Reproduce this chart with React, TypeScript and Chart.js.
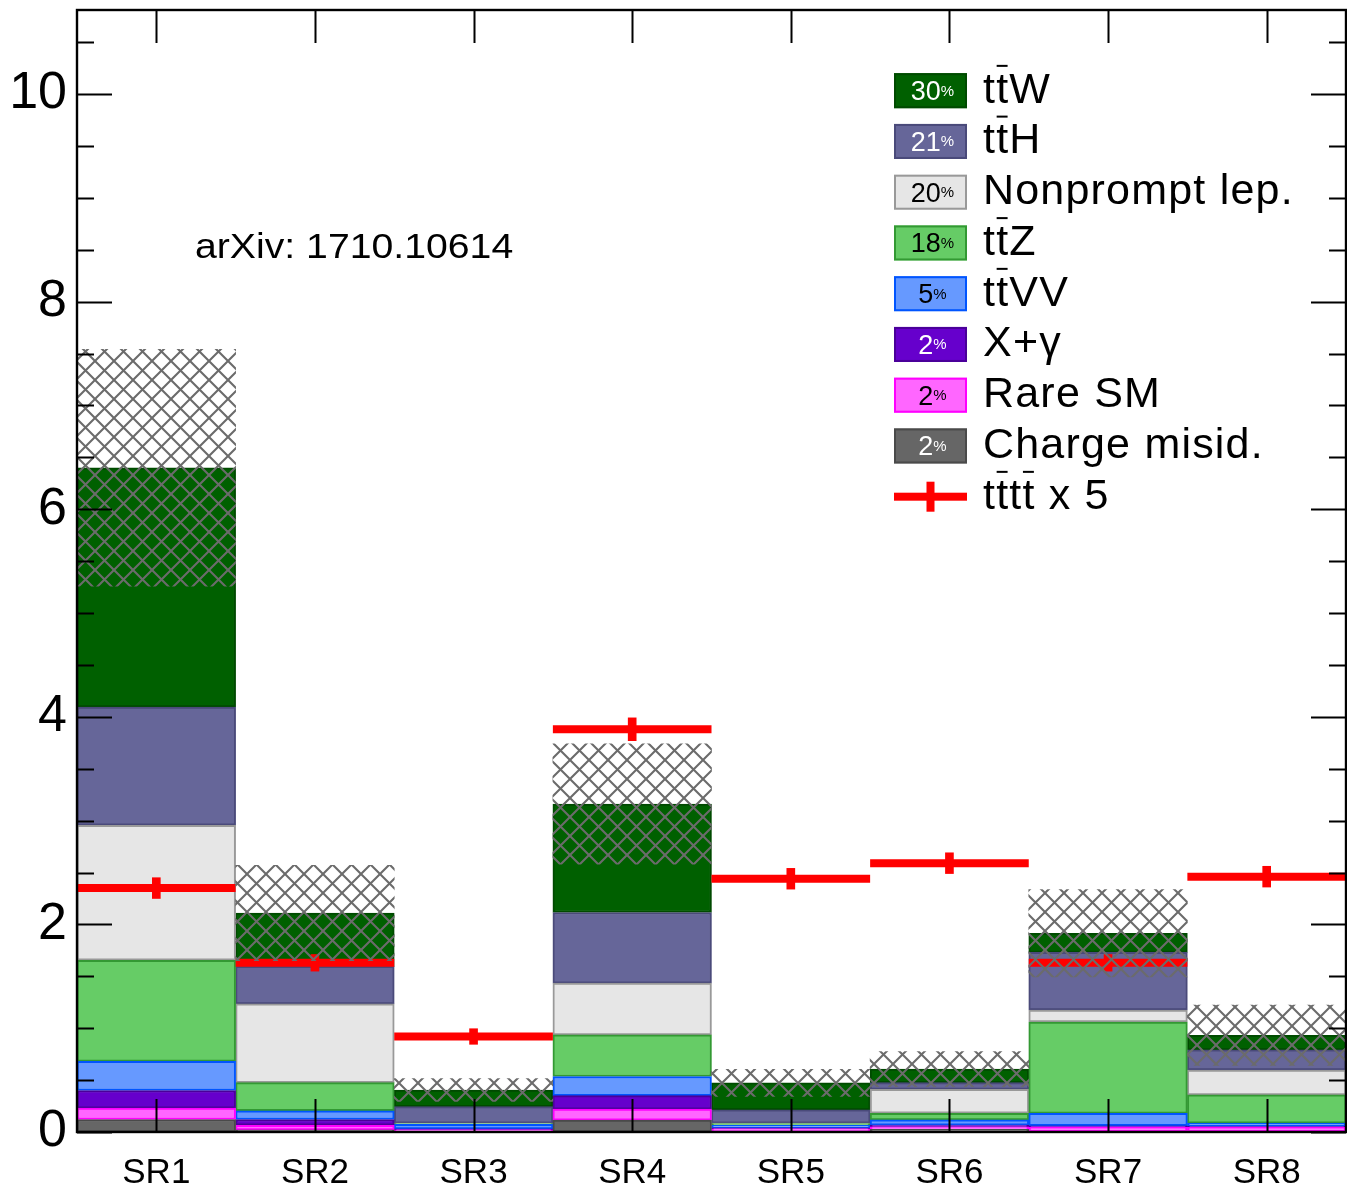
import React, { useEffect, useRef } from "react";
import { Chart, registerables } from "chart.js";

Chart.register(...registerables);

// ---------------- data ----------------
const categories = ["SR1", "SR2", "SR3", "SR4", "SR5", "SR6", "SR7", "SR8"];

// stacked backgrounds (bottom to top)
const chargeMisid = [0.12, 0.02, 0.005, 0.115, 0.01, 0.025, 0.01, 0.01];
const rareSM = [0.11, 0.045, 0.015, 0.105, 0.02, 0.025, 0.035, 0.035];
const xGamma = [0.17, 0.055, 0.01, 0.13, 0.01, 0.017, 0.015, 0.01];
const ttVV = [0.28, 0.085, 0.045, 0.185, 0.025, 0.05, 0.12, 0.03];
const ttZ = [0.975, 0.27, 0.005, 0.4, 0.015, 0.064, 0.88, 0.272];
const nonprompt = [1.3, 0.76, 0.005, 0.5, 0.005, 0.23, 0.115, 0.24];
const ttH = [1.14, 0.36, 0.16, 0.68, 0.128, 0.065, 0.555, 0.195];
const ttW = [2.305, 0.515, 0.16, 1.045, 0.26, 0.13, 0.185, 0.14];

// total background uncertainty (symmetric)
const totalUnc = [1.14, 0.46, 0.11, 0.58, 0.13, 0.17, 0.42, 0.29];

// signal tttt x 5 and its error
const tttt5 = [2.35, 1.63, 0.92, 3.88, 2.44, 2.59, 1.63, 2.46];
const tttt5Err = [0.1, 0.08, 0.075, 0.11, 0.1, 0.1, 0.08, 0.1];

const yTickLabels = [0, 2, 4, 6, 8, 10];
const yMinorStep = 0.5;
const yMax = 10.81;

const labelsBottomToTop = [
  "Charge misid.",
  "Rare SM",
  "X+\u03b3",
  "tt\u0304VV",
  "tt\u0304Z",
  "Nonprompt lep.",
  "tt\u0304H",
  "tt\u0304W",
];
const percentsBottomToTop = ["2", "2", "2", "5", "18", "20", "21", "30"];
const signalLabel = "tt\u0304tt\u0304 x 5";
const annotation = "arXiv: 1710.10614";

// ---------------- styles ----------------
const FONT = "'Liberation Sans', Arial, Helvetica, sans-serif";
const fills = ["#666666", "#ff66ff", "#6600cc", "#6699ff", "#66cc66", "#e6e6e6", "#666699", "#006000"];
const borders = ["#4a4a4a", "#ff00ff", "#4a0099", "#0055ff", "#339933", "#999999", "#4a4a7a", "#004a00"];
const pctColors = ["#ffffff", "#000000", "#ffffff", "#000000", "#000000", "#000000", "#ffffff", "#ffffff"];

function drawOverlinedText(ctx: CanvasRenderingContext2D, text: string, x: number, y: number, size: number) {
  let cx = x;
  const chars = Array.from(text);
  for (let i = 0; i < chars.length; i++) {
    const ch = chars[i];
    if (ch === "\u0304") continue;
    ctx.fillText(ch, cx, y);
    const w = ctx.measureText(ch).width;
    if (chars[i + 1] === "\u0304") {
      ctx.fillRect(cx + 0.5, y - size * 0.88, w - 1, 2);
    }
    cx += w + 1.2;
  }
}

const decorPlugin = {
  id: "decor",
  afterDraw(chart: any) {
    const ctx: CanvasRenderingContext2D = chart.ctx;
    const { left, right, top, bottom } = chart.chartArea;
    const ys = chart.scales.y;
    const xs = chart.scales.x;
    ctx.save();
    // frame
    ctx.strokeStyle = "#000";
    ctx.lineWidth = 2.4;
    ctx.strokeRect(left, top, right - left, bottom - top);
    // y ticks (both sides, inward)
    ctx.lineWidth = 2;
    ctx.beginPath();
    for (let v = 0; v <= ys.max + 1e-9; v += yMinorStep) {
      const py = Math.round(ys.getPixelForValue(v)) + 0.5;
      const major = yTickLabels.includes(Math.round(v * 100) / 100);
      const len = major ? 35 : 17;
      ctx.moveTo(left, py);
      ctx.lineTo(left + len, py);
      ctx.moveTo(right, py);
      ctx.lineTo(right - len, py);
    }
    // x ticks at bin centers (top and bottom, inward)
    categories.forEach((_, i) => {
      const px = Math.round(xs.getPixelForValue(i)) + 0.5;
      ctx.moveTo(px, bottom);
      ctx.lineTo(px, bottom - 33);
      ctx.moveTo(px, top);
      ctx.lineTo(px, top + 33);
    });
    ctx.stroke();

    // annotation (slightly wide sans, as in the original)
    ctx.fillStyle = "#000";
    ctx.font = `35px ${FONT}`;
    ctx.textAlign = "left";
    ctx.textBaseline = "alphabetic";
    ctx.save();
    ctx.translate(195, 258);
    ctx.scale(1.12, 1);
    ctx.fillText(annotation, 0, 0);
    ctx.restore();

    // legend
    const x0 = 894;
    const w = 73;
    const h = 35;
    const cy0 = 90.7;
    const step = 50.75;
    const n = labelsBottomToTop.length;
    for (let r = 0; r < n; r++) {
      const k = n - 1 - r;
      const cy = cy0 + r * step;
      ctx.fillStyle = fills[k];
      ctx.fillRect(x0, cy - h / 2, w, h);
      ctx.strokeStyle = borders[k];
      ctx.lineWidth = 2;
      ctx.strokeRect(x0 + 1, cy - h / 2 + 1, w - 2, h - 2);
      // percent
      ctx.fillStyle = pctColors[k];
      ctx.font = `27px ${FONT}`;
      const numW = ctx.measureText(percentsBottomToTop[k]).width;
      ctx.font = `15px ${FONT}`;
      const pW = ctx.measureText("%").width;
      const sx = x0 + w / 2 + 2 - (numW + pW) / 2;
      ctx.font = `27px ${FONT}`;
      ctx.fillText(percentsBottomToTop[k], sx, cy + 9.5);
      ctx.font = `15px ${FONT}`;
      ctx.fillText("%", sx + numW, cy + 5);
      // label
      ctx.fillStyle = "#000";
      ctx.font = `43px ${FONT}`;
      drawOverlinedText(ctx, labelsBottomToTop[k], 983, cy + 12, 43);
    }
    // signal legend row
    const cy = cy0 + n * step;
    ctx.fillStyle = "#ff0000";
    ctx.fillRect(x0, cy - 4, w, 8);
    ctx.fillRect(x0 + w / 2 - 4, cy - 15, 8, 30);
    ctx.fillStyle = "#000";
    ctx.font = `43px ${FONT}`;
    drawOverlinedText(ctx, signalLabel, 983, cy + 12, 43);
    ctx.restore();
  },
};

function makeHatch(ctx: CanvasRenderingContext2D) {
  const s = 19;
  const c = document.createElement("canvas");
  c.width = s;
  c.height = s;
  const g = c.getContext("2d")!;
  g.strokeStyle = "#6b6b6b";
  g.lineWidth = 2.1;
  g.beginPath();
  for (const k of [-s, 0, s]) {
    g.moveTo(k, 0);
    g.lineTo(k + s, s);
    g.moveTo(k + s, 0);
    g.lineTo(k, s);
  }
  g.stroke();
  return ctx.createPattern(c, "repeat");
}

export default function App() {
  const canvasRef = useRef<HTMLCanvasElement | null>(null);

  useEffect(() => {
    document.body.style.margin = "0";
    const canvas = canvasRef.current!;
    const ctx = canvas.getContext("2d")!;
    const hatch = makeHatch(ctx);

    const stacks = [chargeMisid, rareSM, xGamma, ttVV, ttZ, nonprompt, ttH, ttW];
    const totals = categories.map((_, i) => stacks.reduce((a, s) => a + s[i], 0));

    const stackDatasets = stacks.map((vals, k) => ({
      type: "bar" as const,
      label: labelsBottomToTop[k],
      data: vals,
      backgroundColor: fills[k],
      borderColor: borders[k],
      borderWidth: 2,
      borderSkipped: false as const,
      stack: "bkg",
      grouped: false,
      xAxisID: "x",
      yAxisID: "y",
      categoryPercentage: 1,
      barPercentage: 1,
      order: 3,
    }));

    const uncDataset = {
      type: "bar" as const,
      label: "unc",
      data: totals.map((t, i) => [t - totalUnc[i], t + totalUnc[i]]),
      backgroundColor: hatch,
      borderWidth: 0,
      stack: "unc",
      grouped: false,
      xAxisID: "x",
      yAxisID: "y",
      categoryPercentage: 1,
      barPercentage: 1,
      order: 0,
    };

    const sigLine: any[] = [];
    tttt5.forEach((v, i) => {
      sigLine.push({ x: i - 0.5, y: v });
      sigLine.push({ x: i + 0.5, y: v });
      sigLine.push({ x: i + 0.5, y: null });
    });

    const sigLineDataset = {
      type: "line" as const,
      label: signalLabel,
      data: sigLine,
      borderColor: "#ff0000",
      borderWidth: 8,
      borderCapStyle: "butt" as const,
      pointRadius: 0,
      spanGaps: false,
      fill: false,
      stack: "sig",
      xAxisID: "xl",
      yAxisID: "y",
      order: 1,
    };

    const sigErrDataset = {
      type: "bar" as const,
      label: "sigErr",
      data: tttt5.map((v, i) => [v - tttt5Err[i], v + tttt5Err[i]]),
      backgroundColor: "#ff0000",
      borderWidth: 0,
      stack: "err",
      grouped: false,
      maxBarThickness: 8,
      xAxisID: "x",
      yAxisID: "y",
      categoryPercentage: 1,
      barPercentage: 1,
      order: 1,
    };

    const chart = new Chart(canvas, {
      type: "bar",
      data: {
        labels: categories,
        datasets: [...stackDatasets, uncDataset, sigLineDataset, sigErrDataset] as any,
      },
      options: {
        responsive: false,
        animation: false,
        devicePixelRatio: 1,
        layout: { padding: { top: 10, right: 1, left: 0, bottom: 0 } },
        plugins: { legend: { display: false }, tooltip: { enabled: false } },
        scales: {
          x: {
            type: "category",
            stacked: true,
            offset: true,
            grid: { display: false },
            border: { display: false },
            ticks: {
              font: { family: FONT, size: 35 },
              color: "#000",
              padding: 12,
              maxRotation: 0,
              autoSkip: false,
            },
            afterFit: (s: any) => {
              s.height = 57;
              s.paddingLeft = 0;
              s.paddingRight = 0;
            },
          },
          xl: {
            type: "linear",
            axis: "x",
            display: false,
            min: -0.5,
            max: 7.5,
            offset: false,
          },
          y: {
            type: "linear",
            stacked: true,
            min: 0,
            max: yMax,
            grid: { display: false },
            border: { display: false },
            ticks: {
              font: { family: FONT, size: 52 },
              color: "#000",
              padding: 2,
            },
            afterBuildTicks: (s: any) => {
              s.ticks = yTickLabels.map((v) => ({ value: v }));
            },
            afterFit: (s: any) => {
              s.width = 77;
              s.paddingTop = 0;
              s.paddingBottom = 0;
            },
          },
        } as any,
      },
      plugins: [decorPlugin],
    });

    return () => chart.destroy();
  }, []);

  return (
    <div style={{ position: "absolute", left: 0, top: 0, width: 1347, height: 1189, background: "#fff" }}>
      <canvas ref={canvasRef} width={1347} height={1189} style={{ width: 1347, height: 1189, display: "block" }} />
    </div>
  );
}
